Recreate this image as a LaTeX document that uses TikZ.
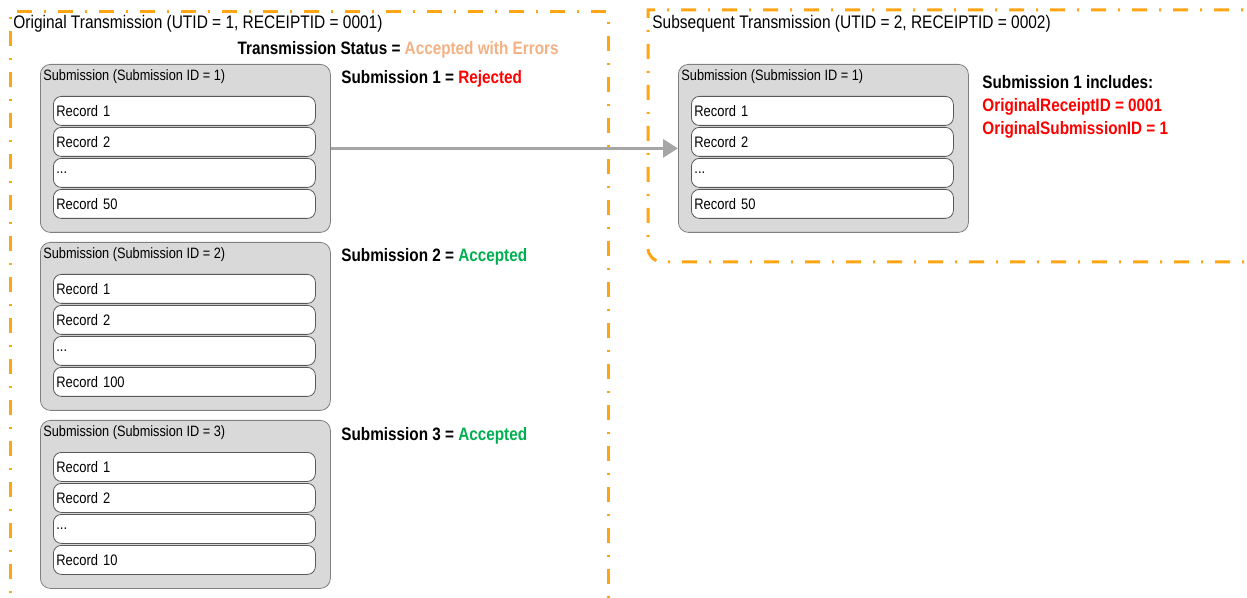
\documentclass[tikz,border=0pt]{standalone}
\usepackage{fontspec}
\setmainfont[FakeStretch=0.85]{Liberation Sans}
\usetikzlibrary{arrows.meta}
\definecolor{frameorange}{HTML}{FFA514}
\definecolor{subgray}{HTML}{D9D9D9}
\definecolor{subline}{HTML}{7F7F7F}
\definecolor{recline}{HTML}{595959}
\definecolor{peach}{HTML}{F4B183}
\definecolor{okgreen}{HTML}{00B050}
\definecolor{arrowgray}{HTML}{A6A6A6}

\begin{document}
\begin{tikzpicture}[x=0.5pt, y=-0.5pt, frame/.style={draw=frameorange, line width=1.5pt, dash pattern=on 7.5pt off 6pt on 1pt off 6pt}, subbox/.style={draw=subline, fill=subgray, rounded corners=5pt, minimum width=145pt, minimum height=84pt, anchor=north west, inner sep=0pt}, rec/.style={draw=recline, fill=white, rounded corners=4pt, text width=128pt, inner xsep=1.5pt, inner ysep=0pt, minimum height=14.5pt, align=left, anchor=north west, font=\fontsize{7.6}{9}\selectfont}, subtitle/.style={anchor=base west, inner sep=0pt, font=\fontsize{7.5}{9}\selectfont}, title/.style={anchor=base west, inner sep=0pt, font=\fontsize{9.1}{11}\selectfont}, status/.style={anchor=base west, inner sep=0pt, font=\bfseries\fontsize{9}{11}\selectfont}, link/.style={-{Triangle[length=7.5pt, width=9pt]}, draw=arrowgray, line width=1.5pt}]
            \useasboundingbox (0,0) rectangle (1247,598);
            % frames
            \draw[frame] (10,620) -- (10,12) -- (608,12) -- (608,620);
            \draw[frame] (1270,10) -- (648,10) -- (648,120) [rounded corners=7pt] -- (648,262) -- (1270,262);
            \node[title] (origtitle) at (13,29) {Original Transmission (UTID = 1, RECEIPTID = 0001)};
            \node[title] (subsqtitle) at (652,29) {Subsequent Transmission (UTID = 2, RECEIPTID = 0002)};
            \node[status, anchor=base east] (txstatus) at (559,55) {Transmission Status = \textcolor{peach}{Accepted with Errors}};
            % submission 1
            \node[subbox] (sub1) at (40,64) {};
            \node[subtitle] (sub1title) at (43,81) {Submission (Submission ID = 1)};
            \node[rec] (sub1rec1) at (53,96) {Record 1};
            \node[rec] (sub1rec2) at (53,127) {Record 2};
            \node[rec] (sub1rec3) at (53,158) {...};
            \node[rec] (sub1rec4) at (53,189) {Record 50};
            \node[status] (sub1status) at (341,84) {Submission 1 = \textcolor{red}{Rejected}};
            % submission 2
            \node[subbox] (sub2) at (40,242) {};
            \node[subtitle] (sub2title) at (43,259) {Submission (Submission ID = 2)};
            \node[rec] (sub2rec1) at (53,274) {Record 1};
            \node[rec] (sub2rec2) at (53,305) {Record 2};
            \node[rec] (sub2rec3) at (53,336) {...};
            \node[rec] (sub2rec4) at (53,367) {Record 100};
            \node[status] (sub2status) at (341,262) {Submission 2 = \textcolor{okgreen}{Accepted}};
            % submission 3
            \node[subbox] (sub3) at (40,420) {};
            \node[subtitle] (sub3title) at (43,437) {Submission (Submission ID = 3)};
            \node[rec] (sub3rec1) at (53,452) {Record 1};
            \node[rec] (sub3rec2) at (53,483) {Record 2};
            \node[rec] (sub3rec3) at (53,514) {...};
            \node[rec] (sub3rec4) at (53,545) {Record 10};
            \node[status] (sub3status) at (341,440) {Submission 3 = \textcolor{okgreen}{Accepted}};
            % resubmission
            \node[subbox] (resub) at (678,64) {};
            \node[subtitle] (resubtitle) at (681,81) {Submission (Submission ID = 1)};
            \node[rec] (resubrec1) at (691,96) {Record 1};
            \node[rec] (resubrec2) at (691,127) {Record 2};
            \node[rec] (resubrec3) at (691,158) {...};
            \node[rec] (resubrec4) at (691,189) {Record 50};
            \node[status, align=left, anchor=north west, font=\bfseries\fontsize{9}{11.5}\selectfont] (resubnote) at (982,75) {Submission 1 includes:\\ \textcolor{red}{OriginalReceiptID = 0001}\\ \textcolor{red}{OriginalSubmissionID = 1}};
            % edges
            \draw[link] (sub1) -- (resub);
        \end{tikzpicture}
\end{document}
